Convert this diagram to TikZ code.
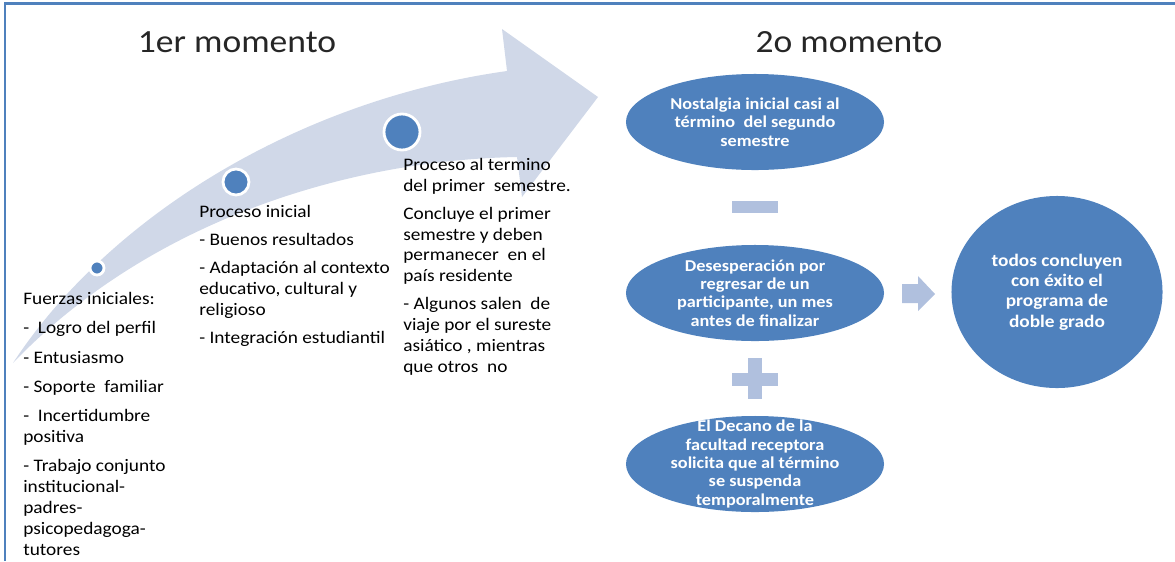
\documentclass[tikz,border=0pt]{standalone}
\usepackage{fontspec}
\setmainfont{Carlito}[FakeStretch=1.1]
\usepackage{tikz}
\usetikzlibrary{positioning, shapes.geometric}
\usepackage{xcolor}

\definecolor{ptblue}{HTML}{4F81BD}
\definecolor{ptband}{HTML}{D0D8E8}
\definecolor{ptsign}{HTML}{B0C0DE}

\tikzset{
  titulo/.style={anchor=base, inner sep=0pt, text=black!85, font=\fontsize{23}{28}\selectfont},
  cuerpo/.style={anchor=base west, align=left, inner sep=0pt, text=black, font=\fontsize{12.5}{14.8}\selectfont},
  punto/.style={circle, fill=ptblue, draw=white, line width=2pt, inner sep=0pt},
  globo/.style={ellipse, fill=ptblue, inner sep=0pt, minimum width=6.45cm, minimum height=2.4cm},
  globotxt/.style={anchor=center, align=center, inner sep=0pt, text=white, font=\bfseries\fontsize{11.8}{13.1}\selectfont},
}

\begin{document}
\begin{tikzpicture}[x=0.025cm, y=-0.025cm]
\useasboundingbox (0,0) rectangle (1175,561);
\draw[ptblue, line width=1.5pt] (5,561) -- (5,3.5) -- (1175,3.5);

% flecha curva del 1er momento
\fill[ptband] (13,363) .. controls (110,215) and (300,100) .. (507,71) -- (502,29) -- (598,97)
  -- (522,197) -- (517,157) .. controls (350,160) and (150,220) .. (13,363) -- cycle;

\node[titulo] (t1) at (237,52) {1er momento};
\node[titulo] (t2) at (849,52) {2o momento};

\node[punto, minimum size=0.35cm] (d1) at (97,268) {};
\node[punto, minimum size=0.65cm] (d2) at (236,182) {};
\node[punto, minimum size=0.9cm] (d3) at (402,132) {};

% el ancla base queda en la ultima linea
\node[cuerpo] (fuerzas) at (23,555) {Fuerzas iniciales:\\[6pt]
-\ \ Logro del perfil\\[6pt]
- Entusiasmo\\[6pt]
- Soporte\ \ familiar\\[6pt]
-\ \ Incertidumbre\\ positiva\\[6pt]
- Trabajo conjunto\\ institucional-\\ padres-\\ psicopedagoga-\\ tutores};
\node[cuerpo] (inicial) at (199,343) {Proceso inicial\\[5pt]
- Buenos resultados\\[5pt]
- Adaptación al contexto\\ educativo, cultural y\\ religioso\\[5pt]
- Integración estudiantil};
\node[cuerpo] (termino) at (403,372) {Proceso al termino\\ del primer\ \ semestre.\\[5pt]
Concluye el primer\\ semestre y deben\\ permanecer\ \ en el\\ país residente\\[5pt]
- Algunos salen\ \ de\\ viaje por el sureste\\ asiático , mientras\\ que otros\ \ no};

% 2o momento
\node[globo] (nost) at (755,122) {};
\node[globotxt] (nosttxt) at (nost) {Nostalgia inicial casi al\\ término\ \ del segundo\\ semestre};
\fill[ptsign] (732,201) rectangle (778,213);
\node[globo] (deses) at (755,293) {};
\node[globotxt] (desestxt) at (deses) {Desesperación por\\ regresar de un\\ participante, un mes\\ antes de finalizar};
\fill[ptsign] (732,373) rectangle (778,386);
\fill[ptsign] (748,358) rectangle (762,399);
\node[globo] (decano) at (755,464) {};
\node[globotxt] (decanotxt) at (decano) {El Decano de la\\ facultad receptora\\ solicita que al término\\ se suspenda\\ temporalmente};

\fill[ptsign] (902,284) -- (918,284) -- (918,276) -- (935,294) -- (918,311) -- (918,303) -- (902,303) -- cycle;
\node[ellipse, fill=ptblue, inner sep=0pt, minimum width=5.275cm, minimum height=4.8cm] (exito) at (1057,292) {};
\node[globotxt, font=\bfseries\fontsize{12.5}{14.4}\selectfont] (exitotxt) at (exito) {todos concluyen\\ con éxito el\\ programa de\\ doble grado};

\end{tikzpicture}
\end{document}
